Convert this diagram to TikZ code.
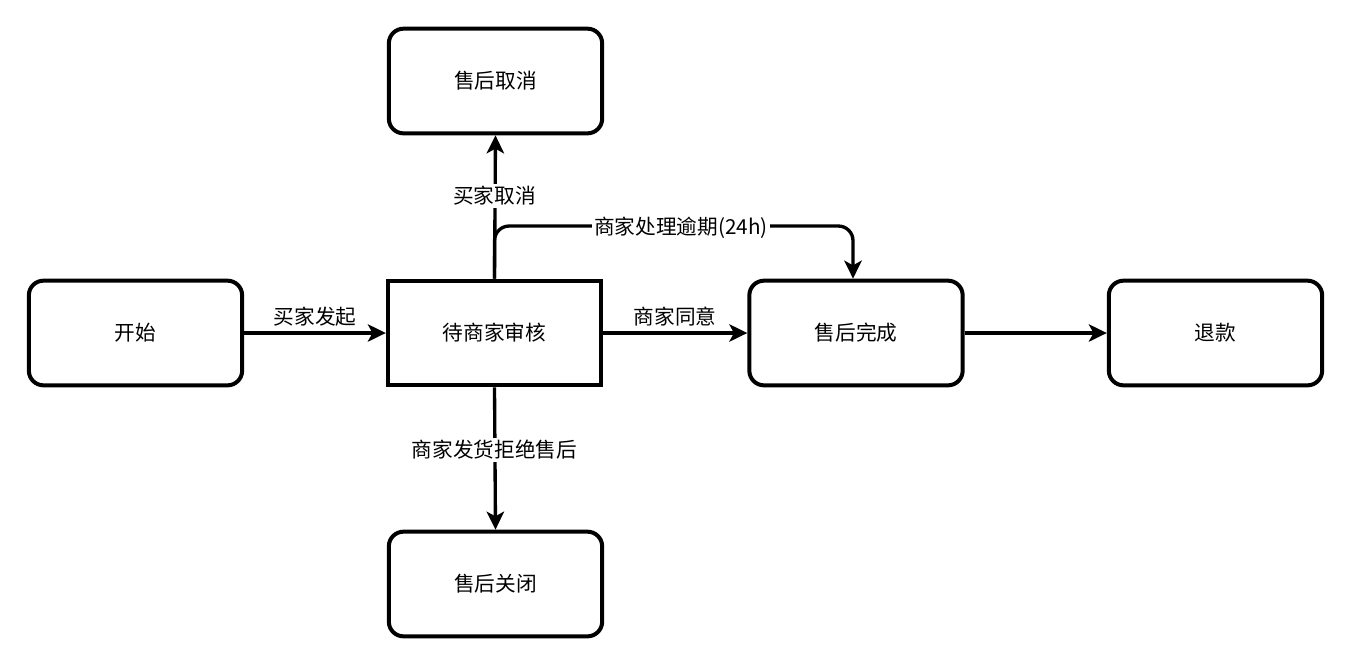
\documentclass[tikz,border=0pt]{standalone}
\usepackage{fontspec}
\setmainfont{Noto Sans CJK SC}
\usetikzlibrary{arrows.meta}
\begin{document}
\begin{tikzpicture}[x=0.75pt,y=-0.75pt,
  state/.style={draw, line width=3pt, rounded corners=11pt, minimum width=160pt, minimum height=78.5pt, inner sep=0pt, font=\fontsize{15.5}{18}\selectfont, fill=white},
  review/.style={state, rounded corners=0pt},
  conn/.style={line width=2.5pt, -{Stealth[length=13.5pt,width=13pt,inset=3.5pt]}},
  lbl/.style={font=\fontsize{15.5}{18}\selectfont, inner sep=1.5pt},
  onlbl/.style={lbl, fill=white}]
\useasboundingbox (0,0) rectangle (1356,662);
\node[state]  (start)  at (135.5,333) {开始};
\node[review] (review) at (494.5,333) {待商家审核};
\node[state]  (cancel) at (495.5,81)  {售后取消};
\node[state]  (close)  at (495.5,584) {售后关闭};
\node[state]  (done)   at (856,333)   {售后完成};
\node[state]  (refund) at (1215.5,333){退款};
\coordinate (c1) at (494.5,226);
\coordinate (c2) at (853,226);
\draw[conn] (start) -- node[lbl, above=2pt] {买家发起} (review);
\draw[conn] (review) -- node[lbl, above=2pt] {商家同意} (done);
\draw[conn] (done) -- (refund);
\draw[conn, rounded corners=11pt] (review.north) -- (c1) -- (c2) -- (done.north -| c2);
\draw[conn] (review.north) -- (cancel.south);
\draw[conn] (review.south) -- (close.north);
\node[onlbl] (l1) at (494.5,196) {买家取消};
\node[onlbl] (l2) at (681,228) {商家处理逾期(24h)};
\node[onlbl] (l3) at (494.5,450) {商家发货拒绝售后};
\end{tikzpicture}
\end{document}
